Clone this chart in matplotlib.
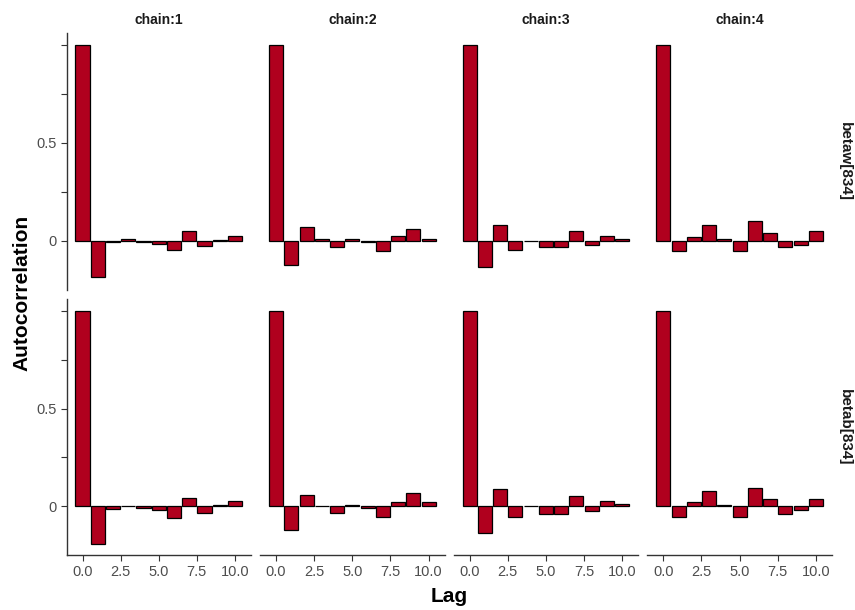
import matplotlib
matplotlib.use("Agg")
import matplotlib.pyplot as plt
import numpy as np

plt.rcParams['font.family'] = ['Liberation Sans', 'DejaVu Sans']

# Data
lags = list(range(11))
chains = ['chain:1', 'chain:2', 'chain:3', 'chain:4']
params = ['betaw[834]', 'betab[834]']

betaw_acf = [
    [1.0, -0.185, -0.005, 0.008, -0.005, -0.014, -0.046, 0.051, -0.027, 0.007, 0.026],
    [1.0, -0.122, 0.070, 0.012, -0.032, 0.012, -0.007, -0.051, 0.026, 0.063, 0.012],
    [1.0, -0.134, 0.083, -0.046, -0.001, -0.032, -0.032, 0.051, -0.019, 0.026, 0.012],
    [1.0, -0.051, 0.019, 0.082, 0.012, -0.051, 0.102, 0.039, -0.031, -0.019, 0.051],
]
betab_acf = [
    [1.0, -0.191, -0.014, 0.002, -0.008, -0.019, -0.059, 0.044, -0.032, 0.008, 0.025],
    [1.0, -0.120, 0.058, 0.001, -0.032, 0.008, -0.008, -0.052, 0.020, 0.066, 0.020],
    [1.0, -0.134, 0.088, -0.052, 0.000, -0.039, -0.039, 0.051, -0.025, 0.027, 0.014],
    [1.0, -0.052, 0.020, 0.076, 0.005, -0.052, 0.095, 0.039, -0.039, -0.019, 0.039],
]
acf = [betaw_acf, betab_acf]

bar_color = '#B0001E'
axis_color = '#333333'
tick_col = '#4D4D4D'

W, H = 855, 610
fig = plt.figure(figsize=(W / 100, H / 100), dpi=100)

# panel geometry in pixels
left0 = 66.5
pw = 184.5
step = 193.6
rows_px = [(33.3, 290.0), (299.3, 555.3)]

ymin = min(min(min(c) for c in p) for p in acf)
yr = 1.0 - ymin
ylim = (ymin - 0.05 * yr, 1.0 + 0.05 * yr)
xlim = (-1.05, 11.05)

for r, (top, bot) in enumerate(rows_px):
    for c in range(4):
        ax = fig.add_axes([(left0 + c * step) / W, (H - bot) / H, pw / W, (bot - top) / H])
        ax.bar(lags, acf[r][c], width=0.92, color=bar_color, edgecolor='black', linewidth=0.9)
        ax.set_xlim(*xlim)
        ax.set_ylim(*ylim)
        for s in ['top', 'right']:
            ax.spines[s].set_visible(False)
        ax.spines['left'].set_visible(c == 0)
        ax.spines['bottom'].set_visible(r == 1)
        ax.spines['left'].set_color(axis_color)
        ax.spines['bottom'].set_color(axis_color)
        ax.spines['left'].set_linewidth(1.0)
        ax.spines['bottom'].set_linewidth(1.0)
        ax.set_yticks([0, 0.25, 0.5, 0.75, 1.0])
        ax.set_xticks([0, 2.5, 5, 7.5, 10])
        ax.tick_params(axis='both', length=4, width=0.8, color=axis_color,
                       labelcolor=tick_col, labelsize=10.5, pad=3)
        if c == 0:
            ax.set_yticklabels(['0', '', '0.5', '', ''])
        else:
            ax.tick_params(axis='y', left=False, labelleft=False)
        if r == 1:
            ax.set_xticklabels(['0.0', '2.5', '5.0', '7.5', '10.0'])
        else:
            ax.tick_params(axis='x', bottom=False, labelbottom=False)
        if r == 0:
            ax.text(0.5, 1.0 + 13 / (bot - top), chains[c], transform=ax.transAxes,
                    ha='center', va='center', fontsize=10, fontweight='bold', color='#1A1A1A')
        if c == 3:
            ax.text(1.0 + 13 / pw, 0.5, params[r], transform=ax.transAxes, rotation=-90,
                    ha='center', va='center', fontsize=11, fontweight='bold', color='#1A1A1A')

fig.text(22 / W, 1 - 293 / H, 'Autocorrelation', rotation=90, ha='center', va='center',
         fontsize=15, fontweight='bold')
fig.text(449 / W, 1 - 596 / H, 'Lag', ha='center', va='center',
         fontsize=15, fontweight='bold')

fig.savefig('out.png', dpi=100)
